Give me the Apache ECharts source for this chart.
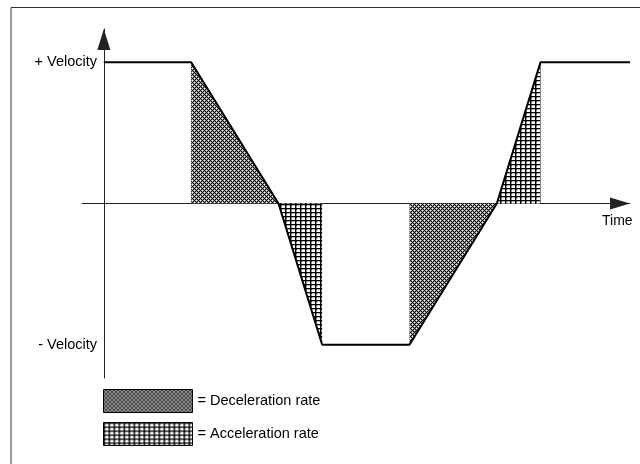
<!DOCTYPE html>
<html>
<head>
<meta charset="utf-8">
<script src="https://cdn.jsdelivr.net/npm/echarts@6/dist/echarts.min.js"></script>
<style>
  html, body { margin: 0; padding: 0; background: #fff; }
  #chart { width: 640px; height: 464px; }
</style>
</head>
<body>
<div id="chart"></div>
<script>
  // velocity profile (time units, +1 / -1 = full velocity)
  var timePoints = [0, 2, 4, 5, 7, 9, 10, 12.05];
  var velocity = [1, 1, 0, -1, -1, 0, 1, 1];

  // shaded regions between the profile and zero
  var decel1 = [[2, 0], [2, 1], [4, 0]];
  var accel1 = [[4, 0], [5, -1], [5, 0]];
  var decel2 = [[7, 0], [7, -1], [9, 0]];
  var accel2 = [[9, 0], [10, 1], [10, 0]];

  var yTickValues = [-1, 1];
  var yTickLabels = { '1': '+ Velocity', '-1': '- Velocity' };
  var legendNames = ['Deceleration rate', 'Acceleration rate'];

  var font = "'Liberation Sans', Arial, sans-serif";

  // small tiles for hatch fills, shade(x, y) gives grey level 0..255
  function makeTile(w, h, shade) {
    var c = document.createElement('canvas');
    c.width = w;
    c.height = h;
    var ctx = c.getContext('2d');
    var img = ctx.createImageData(w, h);
    for (var y = 0; y < h; y++) {
      for (var x = 0; x < w; x++) {
        var v = shade(x, y);
        var i = (y * w + x) * 4;
        img.data[i] = v;
        img.data[i + 1] = v;
        img.data[i + 2] = v;
        img.data[i + 3] = 255;
      }
    }
    ctx.putImageData(img, 0, 0);
    return c;
  }

  // white dots on a dark diagonal mesh
  var decelTile = makeTile(4, 4, function (x, y) {
    if ((x === 0 && y === 0) || (x === 2 && y === 2)) return 255;
    if ((x + y) % 2 === 1) return 150;
    return 0;
  });
  // square grid, lines a bit heavier than one pixel
  var accelTile = makeTile(5, 4, function (x, y) {
    if (x === 0 || y === 0) return 0;
    if (x === 1 && y === 1) return 60;
    if (x === 1) return 150;
    if (y === 1) return 185;
    return 255;
  });
  var decelFill = { image: decelTile, repeat: 'repeat' };
  var accelFill = { image: accelTile, repeat: 'repeat' };

  function hatchSeries(name, data, fill) {
    return {
      name: name,
      type: 'line',
      data: data,
      showSymbol: false,
      silent: true,
      lineStyle: { color: fill, width: 0 },
      areaStyle: { color: fill, opacity: 1 },
      z: 1
    };
  }

  var myChart = echarts.init(document.getElementById('chart'));
  var option = {
    backgroundColor: '#fff',
    animation: false,
    textStyle: { fontFamily: font },
    graphic: [{
      type: 'rect',
      shape: { x: 11, y: 7.5, width: 800, height: 800 },
      style: { fill: 'none', stroke: '#333', lineWidth: 1 },
      silent: true
    }],
    grid: {
      left: 82,
      right: 10,
      top: 29,
      bottom: 86
    },
    legend: {
      data: [
        { name: legendNames[0], itemStyle: { color: decelFill } },
        { name: legendNames[1], itemStyle: { color: accelFill } }
      ],
      orient: 'vertical',
      left: 103,
      top: 389,
      padding: 0,
      itemWidth: 89,
      itemHeight: 23,
      itemGap: 9,
      icon: 'rect',
      selectedMode: false,
      formatter: '= {name}',
      itemStyle: { borderColor: '#000', borderWidth: 1 },
      textStyle: { color: '#000', fontSize: 14.5, fontFamily: font }
    },
    xAxis: {
      type: 'value',
      min: -0.5,
      max: 12.05,
      name: 'Time',
      nameLocation: 'end',
      nameGap: -28,
      nameTextStyle: {
        color: '#000',
        fontSize: 14,
        fontFamily: font,
        verticalAlign: 'top',
        lineHeight: 36
      },
      axisLine: {
        show: true,
        onZero: true,
        symbol: ['none', 'triangle'],
        symbolSize: [12, 20],
        symbolOffset: [0, -10],
        lineStyle: { color: '#222', width: 1 }
      },
      axisTick: { show: false },
      axisLabel: { show: false },
      splitLine: { show: false }
    },
    yAxis: {
      type: 'value',
      min: -1.235,
      max: 1.235,
      axisLine: {
        show: true,
        onZero: true,
        symbol: ['none', 'triangle'],
        symbolSize: [13, 21],
        symbolOffset: [0, -10.5],
        lineStyle: { color: '#222', width: 1 }
      },
      axisTick: { show: false },
      splitLine: { show: false },
      axisLabel: {
        customValues: yTickValues,
        margin: -15,
        color: '#000',
        fontSize: 14.5,
        fontFamily: font,
        formatter: function (v) {
          return yTickLabels[String(v)] || '';
        }
      }
    },
    series: [
      hatchSeries(legendNames[0], decel1, decelFill),
      hatchSeries(legendNames[1], accel1, accelFill),
      hatchSeries(legendNames[0], decel2, decelFill),
      hatchSeries(legendNames[1], accel2, accelFill),
      {
        name: 'Velocity',
        type: 'line',
        data: timePoints.map(function (t, i) { return [t, velocity[i]]; }),
        showSymbol: false,
        silent: true,
        lineStyle: { color: '#000', width: 2 },
        z: 3
      }
    ]
  };
  myChart.setOption(option);
</script>
</body>
</html>
